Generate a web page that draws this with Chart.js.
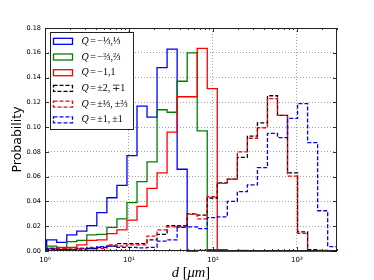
<!DOCTYPE html>
<html>
<head>
<meta charset="utf-8">
<script src="https://cdn.jsdelivr.net/npm/chart.js@4.4.0/dist/chart.umd.min.js"></script>
<style>
  html, body { margin: 0; padding: 0; background: #fff; }
  #wrap { width: 374px; height: 280px; }
</style>
</head>
<body>
<div id="wrap"><canvas id="chart" width="374" height="280"></canvas></div>
<script>
// log-spaced histogram bin edges, d in micrometres
const binEdges = [1.047, 1.379, 1.816, 2.391, 3.148, 4.144, 5.458, 7.186, 9.462, 12.46,
  16.41, 21.60, 28.44, 37.45, 49.32, 64.94, 85.51, 112.6, 148.3, 195.2,
  257.0, 338.5, 445.7, 586.8, 772.7, 1017, 1340, 1764, 2323, 3059];

const seriesLabels = ['Q=−⅓,⅓', 'Q=−⅔,⅔', 'Q=−1,1', 'Q=±2,\u2009∓1', 'Q=±⅓,\u2009±⅔', 'Q=±1,\u2009±1'];

const qThird = [0.009, 0.007, 0.013, 0.016, 0.0205, 0.031, 0.043, 0.053, 0.077, 0.117,
  0.108, 0.148, 0.163, 0.066, 0, 0.0005, 0, 0, 0, 0,
  0, 0, 0, 0, 0, 0, 0, 0, 0];
const qTwoThirds = [0.004, 0.0012, 0.0075, 0.0085, 0.013, 0.0135, 0.019, 0.026, 0.039, 0.056,
  0.072, 0.114, 0.112, 0.137, 0.160, 0.097, 0.001, 0, 0, 0,
  0, 0, 0, 0, 0, 0, 0, 0, 0];
const qOne = [0.002, 0.003, 0.003, 0.005, 0.0085, 0.009, 0.014, 0.017, 0.025, 0.036,
  0.0505, 0.063, 0.096, 0.1245, 0.1245, 0.1635, 0.131, 0.001, 0, 0.0005,
  0, 0, 0, 0, 0, 0, 0, 0, 0];
const qTwoMinusOne = [0.001, 0.001, 0.0015, 0.002, 0.002, 0.003, 0.004, 0.006, 0.006, 0.006,
  0.009, 0.0135, 0.0205, 0.019, 0.030, 0.029, 0.0428, 0.055, 0.058, 0.0756,
  0.0928, 0.1035, 0.1253, 0.1095, 0.063, 0.0155, 0.001, 0.0005, 0];
const qThirdTwoThirds = [0.002, 0.002, 0.0025, 0.002, 0.003, 0.002, 0.005, 0.004, 0.005, 0.005,
  0.012, 0.017, 0.0195, 0.0195, 0.0296, 0.026, 0.0438, 0.0546, 0.058, 0.080,
  0.091, 0.0995, 0.123, 0.1095, 0.0605, 0.0143, 0.0003, 0, 0];
const qOneOne = [0.002, 0.001, 0.001, 0.0015, 0.002, 0.0035, 0.004, 0.003, 0.003, 0.0025,
  0.003, 0.008, 0.009, 0.0204, 0.0195, 0.018, 0.027, 0.0275, 0.040, 0.048,
  0.0533, 0.0673, 0.095, 0.0915, 0.107, 0.119, 0.0874, 0.0325, 0.0035];

const xTickValues = [1, 10, 100, 1000];
const xTickLabels = ['10⁰', '10¹', '10²', '10³'];
const yTickStep = 0.02;

const seriesValues = [qThird, qTwoThirds, qOne, qTwoMinusOne, qThirdTwoThirds, qOneOne];
const seriesColors = ['#0000ff', '#008000', '#ff0000', '#000000', '#ff0000', '#0000ff'];
const seriesDashed = [false, false, false, true, true, true];
const DASH = [4, 2];

function stepPoints(values) {
  const n = values.length;
  const pts = [{ x: binEdges[0], y: 0 }];
  values.forEach((v, i) => pts.push({ x: binEdges[i], y: v }));
  pts.push({ x: binEdges[n], y: values[n - 1] });
  pts.push({ x: binEdges[n], y: 0 });
  return pts;
}

const datasets = seriesValues.map((vals, i) => ({
  label: seriesLabels[i],
  data: stepPoints(vals),
  showLine: true,
  stepped: true,
  borderColor: seriesColors[i],
  borderWidth: 1.3,
  borderDash: seriesDashed[i] ? DASH : [],
  pointRadius: 0,
  fill: false,
  order: seriesValues.length - 1 - i,
  clip: { left: 0, right: 0, top: 2, bottom: 2 }
}));

// frame, inward ticks, legend and axis titles (matplotlib look)
const decorPlugin = {
  id: 'decor',
  afterDatasetsDraw(chart) {
    const { ctx, chartArea: a, scales } = chart;
    ctx.save();
    ctx.strokeStyle = '#000';
    ctx.lineWidth = 0.8;
    ctx.beginPath();
    scales.y.ticks.forEach(t => {
      const y = Math.round(scales.y.getPixelForValue(t.value)) + 0.5;
      ctx.moveTo(a.left, y); ctx.lineTo(a.left + 4, y);
      ctx.moveTo(a.right, y); ctx.lineTo(a.right - 4, y);
    });
    xTickValues.forEach(dec => {
      for (let m = 1; m <= 9; m++) {
        const v = dec * m;
        if (v > scales.x.max) break;
        const x = Math.round(scales.x.getPixelForValue(v)) + 0.5;
        const len = m === 1 ? 4 : 2;
        ctx.moveTo(x, a.bottom); ctx.lineTo(x, a.bottom - len);
        ctx.moveTo(x, a.top); ctx.lineTo(x, a.top + len);
      }
    });
    ctx.stroke();
    ctx.lineWidth = 1;
    ctx.strokeStyle = '#222';
    ctx.strokeRect(a.left + 0.5, a.top + 0.5, a.right - a.left - 1, a.bottom - a.top - 1);
    ctx.restore();
  },
  afterDraw(chart) {
    const { ctx, chartArea: a } = chart;
    ctx.save();

    // legend
    ctx.fillStyle = '#fff';
    ctx.fillRect(50.5, 32.5, 83, 97);
    ctx.strokeStyle = '#222';
    ctx.lineWidth = 1;
    ctx.strokeRect(50.5, 32.5, 83, 97);
    seriesLabels.forEach((label, i) => {
      const cy = 41.3 + i * 15.7;
      ctx.strokeStyle = seriesColors[i];
      ctx.lineWidth = 1.3;
      ctx.setLineDash(seriesDashed[i] ? DASH : []);
      ctx.strokeRect(53.5, cy - 3, 19, 6);
      ctx.setLineDash([]);
      const [q, rest] = label.split('=');
      ctx.fillStyle = '#000';
      ctx.textBaseline = 'middle';
      let x = 81.5;
      ctx.font = 'italic 10px "Liberation Serif"';
      ctx.fillText(q, x, cy);
      x += ctx.measureText(q).width + 1.5;
      ctx.font = '10px "Liberation Serif"';
      ctx.fillText('=', x, cy);
      x += ctx.measureText('=').width + 1.5;
      ctx.fillText(rest, x, cy);
    });

    // y title
    ctx.fillStyle = '#000';
    ctx.font = '12.5px "DejaVu Sans"';
    ctx.textAlign = 'center';
    ctx.textBaseline = 'middle';
    ctx.translate(18, (a.top + a.bottom) / 2);
    ctx.rotate(-Math.PI / 2);
    ctx.fillText('Probability', 0, 0);
    ctx.setTransform(1, 0, 0, 1, 0, 0);

    // x title: d [μm]
    const parts = [['d', true], [' [', false], ['μm', true], [']', false]];
    ctx.textAlign = 'left';
    ctx.textBaseline = 'alphabetic';
    let total = 0;
    parts.forEach(([t, it]) => {
      ctx.font = (it ? 'italic ' : '') + '14.5px "Liberation Serif"';
      total += ctx.measureText(t).width;
    });
    let x = (a.left + a.right) / 2 - total / 2;
    parts.forEach(([t, it]) => {
      ctx.font = (it ? 'italic ' : '') + '14.5px "Liberation Serif"';
      ctx.fillText(t, x, 277);
      x += ctx.measureText(t).width;
    });
    ctx.restore();
  }
};

new Chart(document.getElementById('chart'), {
  type: 'scatter',
  data: { datasets },
  options: {
    responsive: false,
    animation: false,
    devicePixelRatio: 1,
    layout: { padding: { left: 0, right: 37, top: 28, bottom: 0 } },
    plugins: { legend: { display: false }, tooltip: { enabled: false } },
    scales: {
      x: {
        type: 'logarithmic',
        min: 1,
        max: 3000,
        afterBuildTicks: s => { s.ticks = xTickValues.map(v => ({ value: v, major: true })); },
        afterFit: s => { s.height = 29; },
        grid: { color: 'rgba(0,0,0,0.45)', lineWidth: 0.8, drawTicks: false },
        border: { display: false, dash: [1, 2] },
        ticks: {
          autoSkip: false, maxRotation: 0, padding: 5, color: '#000',
          font: { family: 'DejaVu Sans', size: 7 },
          callback: (v, i) => xTickLabels[i]
        }
      },
      y: {
        min: 0,
        max: 0.18,
        afterFit: s => { s.width = 45; },
        grid: { color: 'rgba(0,0,0,0.45)', lineWidth: 0.8, drawTicks: false },
        border: { display: false, dash: [1, 2] },
        ticks: {
          stepSize: yTickStep, padding: 4, color: '#000',
          font: { family: 'DejaVu Sans', size: 6.5 },
          callback: v => v.toFixed(2)
        }
      }
    }
  },
  plugins: [decorPlugin]
});
</script>
</body>
</html>
